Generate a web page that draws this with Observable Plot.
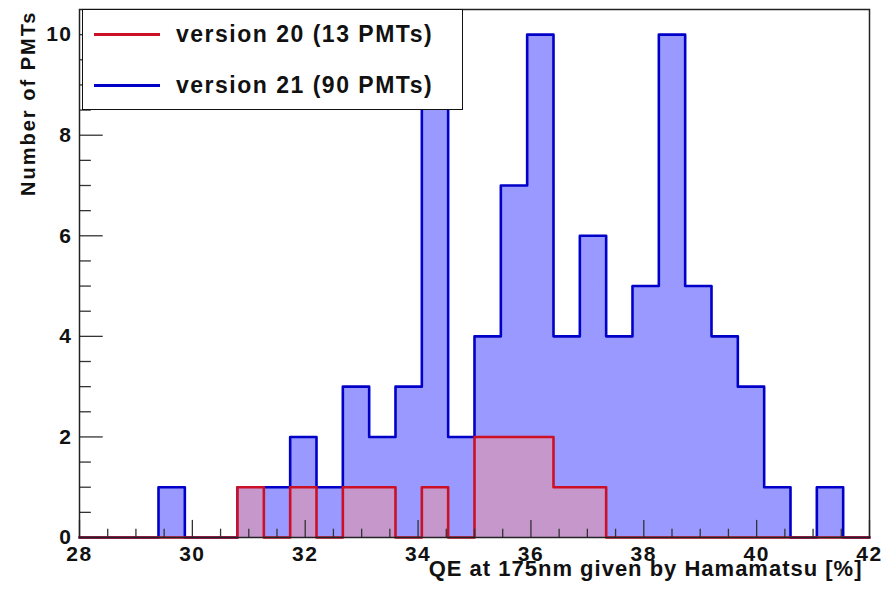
<!DOCTYPE html>
<html><head><meta charset="utf-8">
<script src="https://cdn.jsdelivr.net/npm/d3@7"></script>
<script src="https://cdn.jsdelivr.net/npm/@observablehq/plot@0.6"></script>
<style>
body{margin:0;background:#fff;}
#wrap{position:relative;width:882px;height:593px;font-family:"Liberation Sans",Arial,Helvetica,sans-serif;font-weight:bold;}
#wrap svg{position:absolute;left:0;top:0;}
#legend{position:absolute;left:82px;top:9px;width:381px;height:101px;box-sizing:border-box;border:1.5px solid #111;background:#fff;}
#legend .sw{position:absolute;left:11px;width:66px;height:2.5px;}
#legend .lb{position:absolute;left:93px;font-size:23px;line-height:23px;letter-spacing:1.5px;white-space:nowrap;color:#111;}
</style></head><body><div id="wrap"><div id="legend"></div></div>
<script>
// Histogram definition (ROOT TH1: 30 bins from 28 to 42)
const xLow = 28, xHigh = 42, nBins = 30;
// bin counts, version 21 (90 PMTs)
const countsV21 = [0,0,0,1,0,0,1,1,2,1,3,2,3,10,2,4,7,10,4,6,4,5,10,5,4,3,1,0,1,0];
// bin counts, version 20 (13 PMTs)
const countsV20 = [0,0,0,0,0,0,1,0,1,0,1,1,0,1,0,2,2,2,1,1,0,0,0,0,0,0,0,0,0,0];
const seriesNames = ["version 20 (13 PMTs)", "version 21 (90 PMTs)"];
const xTickLabels = [28,30,32,34,36,38,40,42];
const yTickLabels = [0,2,4,6,8,10];
const xMinorTicks = d3.range(28.5, 42, 0.5).filter(v => v % 2 !== 0);
const yMinorTicks = d3.range(0.5, 10.5, 0.5).filter(v => v % 2 !== 0);
const xTitle = "QE at 175nm given by Hamamatsu [%]";
const yTitle = "Number of PMTs";

const colV21 = {stroke: "#0000c8", fill: "#9999ff"};
const colV20 = {stroke: "#cc1126", fill: "#c697cb"};

const edges = d3.range(nBins + 1).map(i => xLow + i * (xHigh - xLow) / nBins);
const stepOf = counts => [...counts.map((c, i) => ({x: edges[i], y: c})), {x: xHigh, y: counts[nBins - 1]}];

const font = {fontFamily: '"Liberation Sans", Arial, sans-serif', fontWeight: "bold"};

const chart = Plot.plot({
  width: 882, height: 593,
  marginLeft: 79, marginRight: 13, marginTop: 9, marginBottom: 56,
  x: {domain: [xLow, xHigh]},
  y: {domain: [0, 10.5]},
  style: {background: "transparent", fontFamily: font.fontFamily, color: "#111"},
  marks: [
    Plot.areaY(stepOf(countsV21), {x: "x", y: "y", curve: "step-after", fill: colV21.fill}),
    Plot.line(stepOf(countsV21), {x: "x", y: "y", curve: "step-after", stroke: colV21.stroke, strokeWidth: 2.6}),
    Plot.areaY(stepOf(countsV20), {x: "x", y: "y", curve: "step-after", fill: colV20.fill}),
    Plot.line(stepOf(countsV20), {x: "x", y: "y", curve: "step-after", stroke: colV20.stroke, strokeWidth: 2.6}),
    // inner ticks (ROOT style)
    Plot.ruleX(xTickLabels, {x: d => d, y1: 0, y2: 0.34, stroke: "#333", strokeWidth: 1.3}),
    Plot.ruleX(xMinorTicks, {x: d => d, y1: 0, y2: 0.165, stroke: "#333", strokeWidth: 1.3}),
    Plot.ruleY(yTickLabels, {y: d => d, x1: xLow, x2: xLow + 0.42, stroke: "#333", strokeWidth: 1.3}),
    Plot.ruleY(yMinorTicks, {y: d => d, x1: xLow, x2: xLow + 0.21, stroke: "#333", strokeWidth: 1.3}),
    Plot.frame({stroke: "#222", strokeWidth: 1.5}),
    Plot.axisX({ticks: xTickLabels, tickSize: 0, tickPadding: 8, label: null, fontSize: 21, ...font}),
    Plot.axisY({ticks: yTickLabels, tickSize: 0, tickPadding: 7, label: null, fontSize: 21, ...font}),
    Plot.text([yTitle], {text: d => d, frameAnchor: "top-left", rotate: -90, textAnchor: "end", dx: -59, dy: 1, fontSize: 20, fill: "#111", ...font}),
    Plot.text([xTitle], {text: d => d, frameAnchor: "bottom-right", textAnchor: "end", dx: -7, dy: 32, fontSize: 22, fill: "#111", ...font})
  ]
});
const wrap = document.getElementById("wrap");
wrap.insertBefore(chart, wrap.firstChild);

// typography tweaks (ROOT Helvetica-bold look)
const svg = d3.select(chart);
const xTickStrings = new Set(xTickLabels.map(String));
const yTickStrings = new Set(yTickLabels.map(String));
const svgBox = chart.getBoundingClientRect();
// nudge a text vertically so its baseline lands on `baseline` (px from svg top)
function setBaseline(el, fontSize, baseline) {
  const r = el.getBoundingClientRect();
  const current = r.bottom - svgBox.top - 0.212 * fontSize;
  const shift = baseline - current;
  if (Math.abs(shift) > 0.5 && Math.abs(shift) < 20) {
    const tr = el.getAttribute("transform") || "";
    el.setAttribute("transform", `translate(0,${shift.toFixed(1)}) ${tr}`);
  }
}
svg.selectAll("text").each(function() {
  const t = this.textContent, s = d3.select(this);
  const g = this.closest("g");
  const aria = g ? (g.getAttribute("aria-label") || "") : "";
  if (aria.startsWith("x-axis") && xTickStrings.has(t)) {
    s.style("font-size", "21px").style("letter-spacing", "1.5px").style("font-weight", "bold");
    setBaseline(this, 21, 561);
  } else if (aria.startsWith("y-axis") && yTickStrings.has(t)) {
    s.style("font-size", "21px").style("letter-spacing", "1.5px").style("font-weight", "bold");
  } else if (t === yTitle) {
    s.style("font-size", "20px").style("letter-spacing", "2px").style("font-weight", "bold");
  } else if (t === xTitle) {
    s.style("font-size", "22px").style("letter-spacing", "1px").style("font-weight", "bold");
    setBaseline(this, 22, 576);
  }
});

// Legend (overlaid inside plot frame)
const legend = d3.select("#legend");
const entries = [{name: seriesNames[0], color: colV20.stroke, top: 23, textTop: 13},
                 {name: seriesNames[1], color: colV21.stroke, top: 74, textTop: 63.5}];
for (const e of entries) {
  legend.append("div").attr("class", "sw").style("top", e.top + "px").style("background", e.color);
  legend.append("div").attr("class", "lb").style("top", e.textTop + "px").text(e.name);
}
</script>
</body></html>
